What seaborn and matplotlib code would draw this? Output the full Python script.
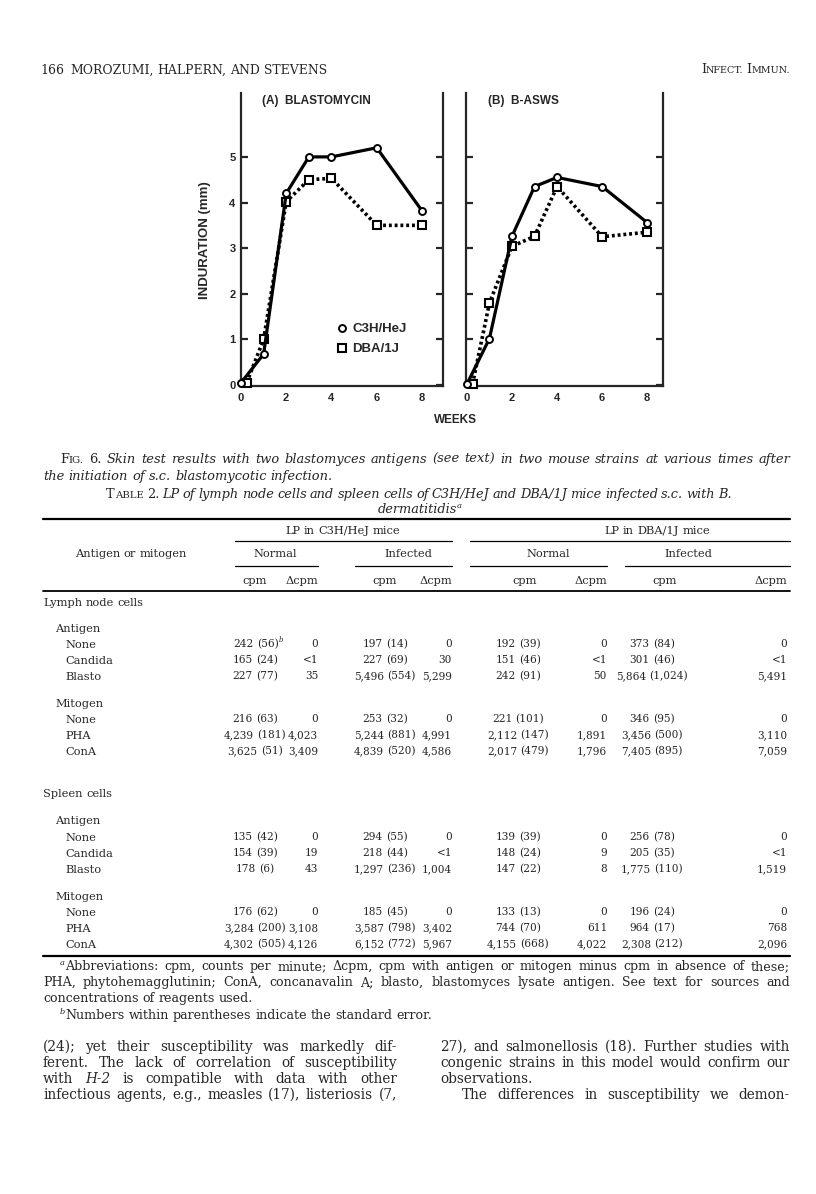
import matplotlib
matplotlib.use("Agg")
import matplotlib.pyplot as plt
from matplotlib.lines import Line2D
import seaborn as sns

W, H = 816, 1194

# Fig. 6 skin test, induration (mm) by week
weeks_c3h = [0, 1, 2, 3, 4, 6, 8]
weeks_dba = [0.25, 1, 2, 3, 4, 6, 8]
blasto_c3h = [0.05, 0.68, 4.2, 5.0, 5.0, 5.2, 3.82]
blasto_dba = [0.05, 1.0, 4.02, 4.5, 4.53, 3.5, 3.5]
basws_c3h = [0.02, 1.02, 3.26, 4.35, 4.55, 4.35, 3.56]
basws_dba = [0.02, 1.8, 3.04, 3.26, 4.35, 3.25, 3.35]

# Table 2
group_names = ["Lymph node cells", "Spleen cells"]
sub_names = ["Antigen", "Mitogen"]
agent_names = [["None", "Candida", "Blasto"], ["None", "PHA", "ConA"]]
c3h_normal_cpm = ["242 (56)", "165 (24)", "227 (77)", "216 (63)", "4,239 (181)", "3,625 (51)",
                  "135 (42)", "154 (39)", "178 (6)", "176 (62)", "3,284 (200)", "4,302 (505)"]
c3h_normal_dcpm = ["0", "<1", "35", "0", "4,023", "3,409", "0", "19", "43", "0", "3,108", "4,126"]
c3h_inf_cpm = ["197 (14)", "227 (69)", "5,496 (554)", "253 (32)", "5,244 (881)", "4,839 (520)",
               "294 (55)", "218 (44)", "1,297 (236)", "185 (45)", "3,587 (798)", "6,152 (772)"]
c3h_inf_dcpm = ["0", "30", "5,299", "0", "4,991", "4,586", "0", "<1", "1,004", "0", "3,402", "5,967"]
dba_normal_cpm = ["192 (39)", "151 (46)", "242 (91)", "221 (101)", "2,112 (147)", "2,017 (479)",
                  "139 (39)", "148 (24)", "147 (22)", "133 (13)", "744 (70)", "4,155 (668)"]
dba_normal_dcpm = ["0", "<1", "50", "0", "1,891", "1,796", "0", "9", "8", "0", "611", "4,022"]
dba_inf_cpm = ["373 (84)", "301 (46)", "5,864 (1,024)", "346 (95)", "3,456 (500)", "7,405 (895)",
               "256 (78)", "205 (35)", "1,775 (110)", "196 (24)", "964 (17)", "2,308 (212)"]
dba_inf_dcpm = ["0", "<1", "5,491", "0", "3,110", "7,059", "0", "<1", "1,519", "0", "768", "2,096"]

sns.set_style("ticks")
plt.rcParams["font.family"] = ["DejaVu Serif"]

fig = plt.figure(figsize=(W / 100, H / 100), dpi=100)
fig.patch.set_facecolor("white")
rend = fig.canvas.get_renderer()


def fy(y):
    return 1 - y / H


def px_axes(x0, x1, y0, y1):
    return fig.add_axes([x0 / W, 1 - y1 / H, (x1 - x0) / W, (y1 - y0) / H])


def hline(x0, x1, y, lw=0.9):
    fig.add_artist(Line2D([x0 / W, x1 / W], [fy(y), fy(y)], transform=fig.transFigure,
                          color="black", lw=lw))


def measure(s, kw):
    t = fig.text(0, 0, s, **kw)
    w = t.get_window_extent(rend).width
    t.remove()
    return w


def words(text, kw):
    return [[(w, kw, 0)] for w in text.split()]


def smallcaps(word, kw):
    small = dict(kw, size=kw["size"] * 0.78)
    return [(word[0], kw, 0), (word[1:].upper(), small, 0)]


def sup(ch, kw):
    return (ch, dict(kw, size=kw["size"] * 0.65, style="italic"), -5)


def draw_line(ws, y, x0, x1=None, mode="left"):
    # y is the visual middle of the line, baseline sits a bit lower
    base = ws[0][-1][1]
    widths = [sum(measure(t, k) for t, k, _ in w) for w in ws]
    gap = measure("a a", base) - measure("aa", base)
    total = sum(widths) + gap * (len(ws) - 1)
    x = x0
    if mode == "justify" and len(ws) > 1:
        gap = (x1 - x0 - sum(widths)) / (len(ws) - 1)
    elif mode == "center":
        x = x0 - total / 2
    elif mode == "right":
        x = x0 - total
    yb = round(y + base["size"] * 0.45)
    for w, wid in zip(ws, widths):
        for t, k, dy in w:
            fig.text(x / W, fy(yb + dy), t, ha="left", va="baseline", **k)
            x += measure(t, k)
        x += gap


# ---- header
hdr = dict(family="DejaVu Serif", size=8.9)
draw_line(words("166", hdr), 70, 40)
draw_line(words("MOROZUMI, HALPERN, AND STEVENS", hdr), 70, 70)
draw_line([smallcaps("Infect.", hdr), smallcaps("Immun.", hdr)], 70, 790, mode="right")

# ---- figure 6
sans = dict(family="Liberation Sans", weight="bold")
axA = px_axes(241, 443, 93, 386)
axB = px_axes(466, 663, 93, 386)
panels = [(axA, blasto_c3h, blasto_dba, 0.0, 8.93), (axB, basws_c3h, basws_dba, -0.04, 8.7)]
for ax, c3h, dba, xmin, xmax in panels:
    sns.lineplot(x=weeks_c3h, y=c3h, ax=ax, color="black", linewidth=2.3, marker="o",
                 markersize=5, markerfacecolor="white", markeredgecolor="black",
                 markeredgewidth=1.4, clip_on=False, zorder=4)
    sns.lineplot(x=weeks_dba, y=dba, ax=ax, color="black", linewidth=2.6,
                 linestyle=(0, (0.8, 0.8)), marker="s", markersize=6,
                 markerfacecolor="white", markeredgecolor="black", markeredgewidth=1.5,
                 clip_on=False, zorder=3)
    ax.set_xlim(xmin, xmax)
    ax.set_ylim(-0.02, 6.4)
    ax.set_xticks([0, 2, 4, 6, 8])
    ax.set_yticks(range(6))
    ax.set_xlabel("")
    ax.set_ylabel("")
    ax.spines["top"].set_visible(False)
    for s in ("left", "right", "bottom"):
        ax.spines[s].set_linewidth(1.6)
    ax.tick_params(axis="y", direction="in", left=True, right=True, length=5, width=1.6, pad=4)
    ax.tick_params(axis="x", length=0, pad=5)
    plt.setp(ax.get_xticklabels() + ax.get_yticklabels(), size=8, **sans)
axB.tick_params(axis="y", labelleft=False)

fig.text(205 / W, fy(240), "INDURATION (mm)", rotation=90, ha="center", va="center",
         size=9.5, **sans)
fig.text(455 / W, fy(420), "WEEKS", ha="center", va="center", size=8.5, **sans)
fig.text(262 / W, fy(101), "(A)  BLASTOMYCIN", ha="left", va="center", size=8.5, **sans)
fig.text(488 / W, fy(101), "(B)  B-ASWS", ha="left", va="center", size=8.5, **sans)

handles = [Line2D([], [], ls="none", marker="o", ms=5, mfc="white", mec="black", mew=1.4),
           Line2D([], [], ls="none", marker="s", ms=6, mfc="white", mec="black", mew=1.5)]
axA.legend(handles, ["C3H/HeJ", "DBA/1J"], frameon=False, loc="upper left",
           bbox_to_anchor=(330 / W, fy(316.5)), bbox_transform=fig.transFigure,
           handlelength=0.8, handletextpad=0.4, labelspacing=0.6, borderpad=0,
           prop=dict(size=9.5, **sans))

# ---- caption
cap = dict(family="DejaVu Serif", size=9.4)
capi = dict(cap, style="italic")
line1 = [smallcaps("Fig.", cap), [("6.", cap, 0)]] + words(
    "Skin test results with two blastomyces antigens (see text) in two mouse strains "
    "at various times after", capi)
draw_line(line1, 460, 60, 790, mode="justify")
draw_line(words("the initiation of s.c. blastomycotic infection.", capi), 476, 43)

# ---- table title
tt = dict(family="DejaVu Serif", size=9.3)
tti = dict(tt, style="italic")
title1 = [smallcaps("Table", tt), [("2.", tt, 0)]] + words(
    "LP of lymph node cells and spleen cells of C3H/HeJ and DBA/1J mice infected s.c. with B.", tti)
draw_line(title1, 495, 419, mode="center")
draw_line([[("dermatitidis", tti, 0), sup("a", tt)]], 510, 420, mode="center")

# ---- table body
tb = dict(family="DejaVu Serif", size=8.2)
td = dict(family="DejaVu Serif", size=7.6)
hline(43, 790, 519, lw=1.6)
draw_line(words("LP in C3H/HeJ mice", tb), 530, 343, mode="center")
draw_line(words("LP in DBA/1J mice", tb), 530, 657, mode="center")
hline(235, 452, 541)
hline(470, 790, 541)
draw_line(words("Antigen or mitogen", tb), 553, 75)
for cx, lab in zip([275, 408, 548, 688], ["Normal", "Infected", "Normal", "Infected"]):
    draw_line(words(lab, tb), 553, cx, mode="center")
for a, b in [(235, 318), (355, 452), (470, 607), (625, 790)]:
    hline(a, b, 566)
cpm_head = [255, 385, 525, 665]
dcpm_right = [318, 452, 607, 787]
for cx, rx in zip(cpm_head, dcpm_right):
    draw_line(words("cpm", tb), 580, cx, mode="center")
    draw_line(words("\u0394cpm", tb), 580, rx, mode="right")
hline(43, 790, 591, lw=1.3)

group_y = [602, 793]
sub_y = [[628, 703], [820, 896]]
row_y = [[[644, 660, 676], [719, 735, 751]], [[837, 853, 869], [912, 928, 944]]]
cpm_x = [255, 385, 518, 652]
columns = [(c3h_normal_cpm, c3h_normal_dcpm), (c3h_inf_cpm, c3h_inf_dcpm),
           (dba_normal_cpm, dba_normal_dcpm), (dba_inf_cpm, dba_inf_dcpm)]
i = 0
for g, gname in enumerate(group_names):
    draw_line(words(gname, tb), group_y[g], 43)
    for s, sname in enumerate(sub_names):
        draw_line(words(sname, tb), sub_y[g][s], 55)
        for r, aname in enumerate(agent_names[s]):
            y = row_y[g][s][r]
            draw_line(words(aname, tb), y, 65)
            for (cpm, dcpm), cx, rx in zip(columns, cpm_x, dcpm_right):
                if i == 0 and cx == cpm_x[0]:
                    a, b = cpm[i].split()
                    draw_line([[(a, td, 0)], [(b, td, 0), sup("b", td)]], y, cx + 3, mode="center")
                else:
                    draw_line(words(cpm[i], td), y, cx, mode="center")
                draw_line(words(dcpm[i], td), y, rx, mode="right")
            i += 1
hline(43, 790, 956, lw=1.6)

# ---- footnotes
fn = dict(family="DejaVu Serif", size=9.1)
draw_line([[sup("a", fn), ("Abbreviations:", fn, 0)]] + words(
    "cpm, counts per minute; \u0394cpm, cpm with antigen or mitogen minus cpm in absence of these;", fn),
    966, 60, 790, mode="justify")
draw_line(words("PHA, phytohemagglutinin; ConA, concanavalin A; blasto, blastomyces lysate "
                "antigen. See text for sources and", fn), 982, 43, 790, mode="justify")
draw_line(words("concentrations of reagents used.", fn), 998, 43)
draw_line([[sup("b", fn), ("Numbers", fn, 0)]] + words(
    "within parentheses indicate the standard error.", fn), 1015, 60)

# ---- running text, two columns
bt = dict(family="DejaVu Serif", size=9.8)
bti = dict(bt, style="italic")
left_col = [
    words("(24); yet their susceptibility was markedly dif-", bt),
    words("ferent. The lack of correlation of susceptibility", bt),
    words("with", bt) + [[("H-2", bti, 0)]] + words("is compatible with data with other", bt),
    words("infectious agents, e.g., measles (17), listeriosis (7,", bt),
]
right_col = [
    words("27), and salmonellosis (18). Further studies with", bt),
    words("congenic strains in this model would confirm our", bt),
    words("observations.", bt),
    words("The differences in susceptibility we demon-", bt),
]
body_y = [1047, 1063, 1079, 1095]
for k, y in enumerate(body_y):
    draw_line(left_col[k], y, 43, 397, mode="justify")
    if k == 2:
        draw_line(right_col[k], y, 440)
    elif k == 3:
        draw_line(right_col[k], y, 462, 790, mode="justify")
    else:
        draw_line(right_col[k], y, 440, 790, mode="justify")

fig.savefig("out.png", dpi=100, facecolor="white")
